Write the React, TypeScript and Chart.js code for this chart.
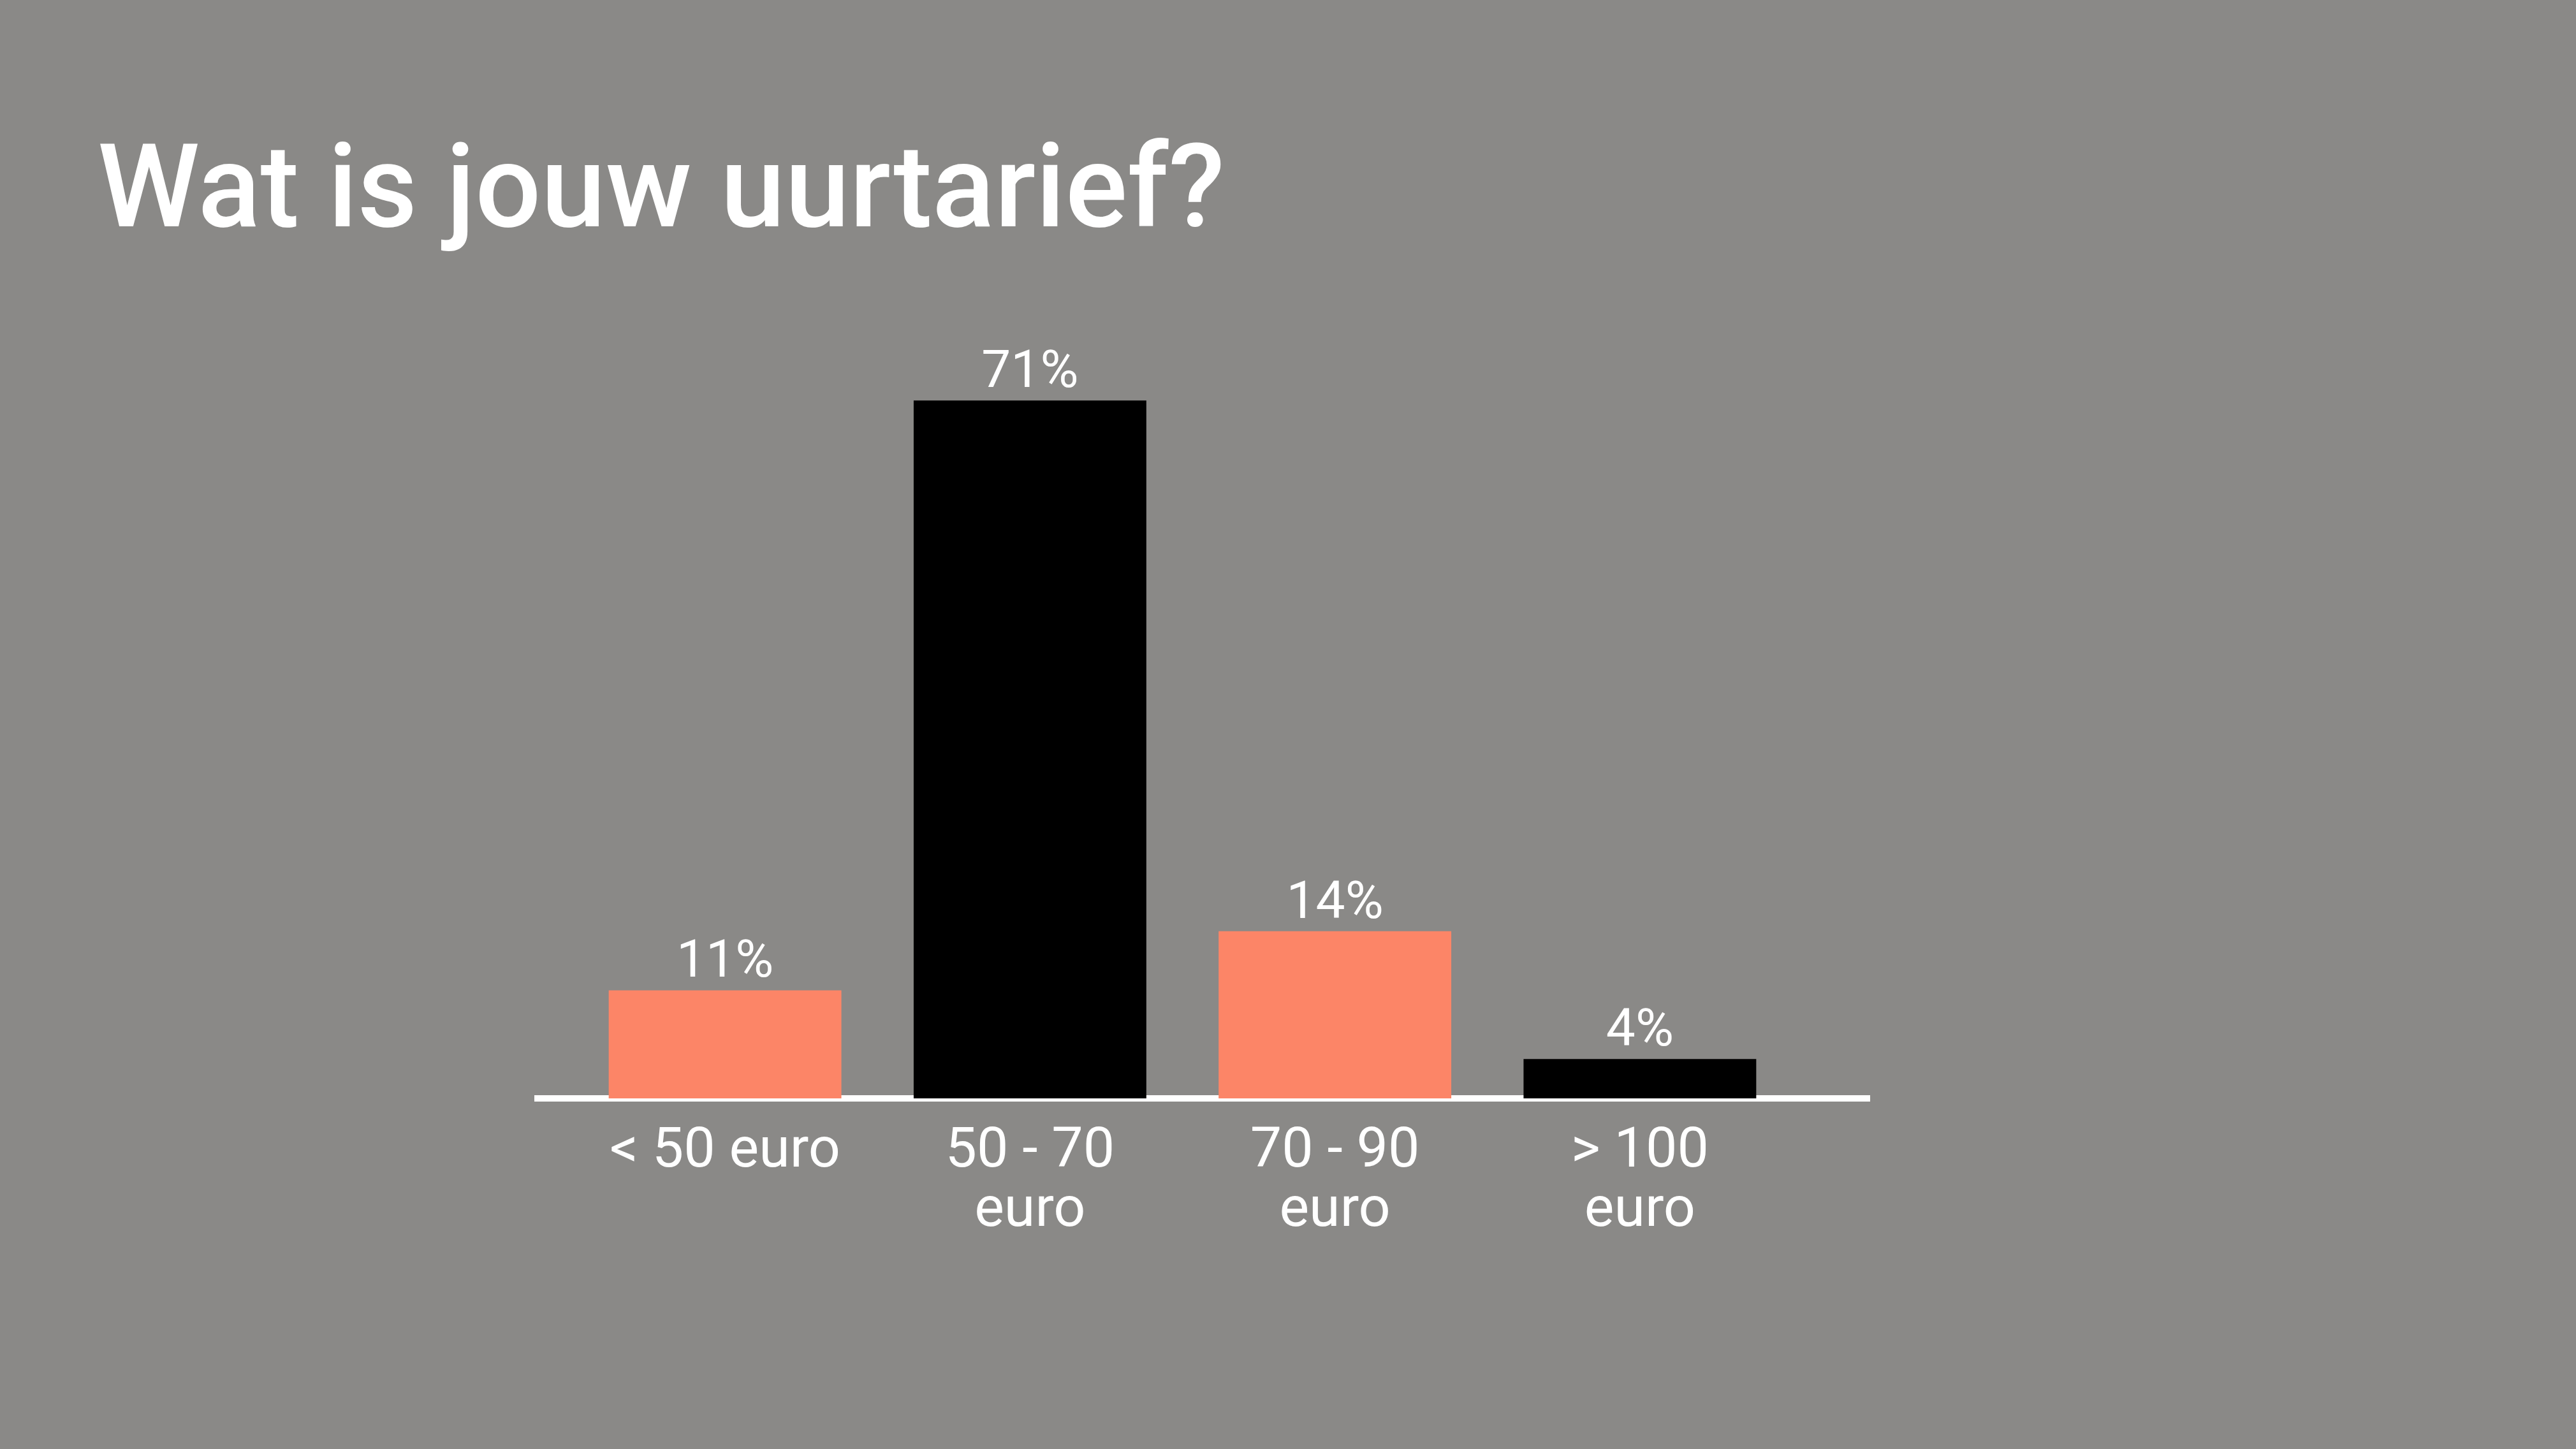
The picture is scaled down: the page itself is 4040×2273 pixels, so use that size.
import { useEffect, useRef } from "react"
import { Chart, registerables, type ChartConfiguration, type Plugin } from "chart.js"

Chart.register(...registerables)

// categories on the x axis (multi-line labels)
const categories: string[][] = [["< 50 euro"], ["50 - 70", "euro"], ["70 - 90", "euro"], ["> 100", "euro"]]
// bar heights as drawn in the source (the third bar is drawn taller than its 14% label)
const barValues = [11, 71, 17, 4]
// texts printed above the bars
const valueLabels = ["11%", "71%", "14%", "4%"]

const ORANGE = "#fc8567"
const BLACK = "#000000"
const BG = "#8a8987"

const valueLabelPlugin: Plugin<"bar"> = {
  id: "valueLabels",
  afterDatasetsDraw(chart) {
    const { ctx } = chart
    const meta = chart.getDatasetMeta(0)
    ctx.save()
    ctx.fillStyle = "#ffffff"
    ctx.font = "400 82px Roboto"
    ctx.textAlign = "center"
    ctx.textBaseline = "alphabetic"
    meta.data.forEach((bar, i) => {
      ctx.fillText(valueLabels[i], bar.x, bar.y - 21)
    })
    ctx.restore()
  },
}

export default function App() {
  const chartRef = useRef<HTMLCanvasElement>(null)
  const chartInstance = useRef<Chart | null>(null)

  useEffect(() => {
    if (!chartRef.current) return
    document.body.style.margin = "0"

    if (chartInstance.current) {
      chartInstance.current.destroy()
    }

    const ctx = chartRef.current.getContext("2d")
    if (!ctx) return

    const config: ChartConfiguration<"bar"> = {
      type: "bar",
      data: {
        datasets: [
          {
            data: barValues.map((v, i) => ({ x: i, y: v })),
            backgroundColor: (c) => (c.dataIndex % 2 === 0 ? ORANGE : BLACK),
            borderWidth: 0,
            categoryPercentage: 1,
            barPercentage: 0.763,
          },
        ],
      },
      options: {
        animation: false,
        responsive: true,
        maintainAspectRatio: false,
        layout: {
          padding: { left: 153, right: 1108, top: 0, bottom: 250 },
        },
        scales: {
          x: {
            type: "linear",
            min: -0.616,
            max: 3.753,
            offset: false,
            z: 1,
            grid: { display: false, drawTicks: false },
            border: { display: true, color: "#ffffff", width: 10 },
            afterBuildTicks: (axis) => {
              axis.ticks = categories.map((_, i) => ({ value: i }))
            },
            afterFit: (axis) => {
              axis.height = 300
            },
            ticks: {
              autoSkip: false,
              maxRotation: 0,
              padding: 38,
              color: "#ffffff",
              font: { family: "Roboto", size: 88, weight: 400, lineHeight: 1.06 },
              callback: (value) => categories[Number(value)] ?? "",
            },
          },
          y: {
            min: 0,
            max: 80,
            grid: { display: false },
            border: { display: false },
            ticks: { display: false },
            afterFit: (axis) => {
              axis.width = 842.5 - 153
            },
          },
        },
        plugins: {
          legend: { display: false },
          tooltip: { enabled: false },
          title: {
            display: true,
            text: "Wat is jouw uurtarief?",
            align: "start",
            color: "#ffffff",
            font: { family: "Roboto", size: 182, weight: 500, lineHeight: 1.2 },
            padding: { top: 200, bottom: 71 },
          },
        },
      },
      plugins: [valueLabelPlugin],
    }

    chartInstance.current = new Chart(ctx, config)

    return () => {
      if (chartInstance.current) {
        chartInstance.current.destroy()
        chartInstance.current = null
      }
    }
  }, [])

  return (
    <div style={{ position: "fixed", left: 0, top: 0, width: 4040, height: 2273, background: BG }}>
      <canvas ref={chartRef} />
    </div>
  )
}
